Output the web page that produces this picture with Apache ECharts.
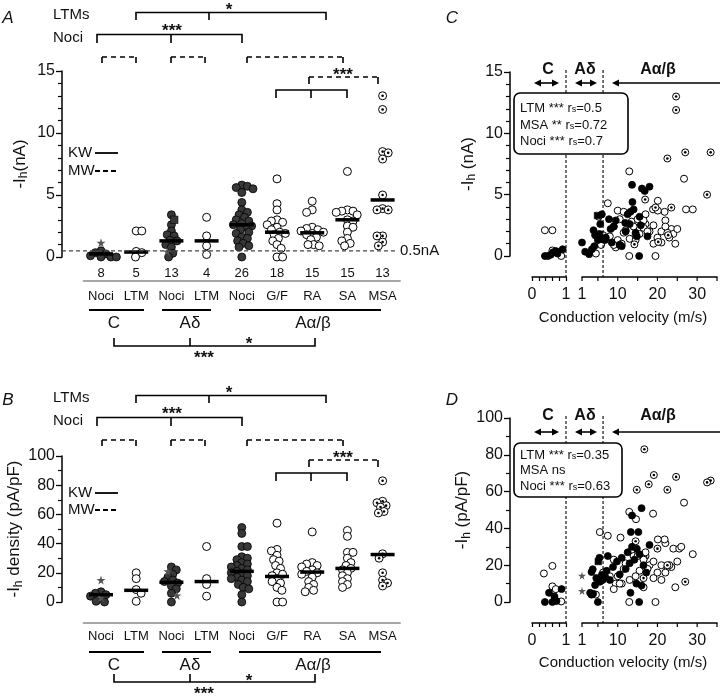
<!DOCTYPE html>
<html><head><meta charset="utf-8">
<script src="https://cdn.jsdelivr.net/npm/echarts@6/dist/echarts.min.js"></script>
<style>html,body{margin:0;padding:0;background:#fff}#c{width:720px;height:696px}</style>
</head><body><div id="c"></div>
<script>
// ---------- data ----------
const groupNames  = ['Noci','LTM','Noci','LTM','Noci','G/F','RA','SA','MSA'];
const groupKinds  = ['noci','ltm','noci','ltm','noci','ltm','ltm','ltm','msa'];
const groupCounts = ['8','5','13','4','26','18','15','15','13'];

// Panel A: -Ih (nA) per group
const aValues = [
  [1.15,0.5,0.35,0.25,0.1,0,0,0],
  [2.1,2.1,0.45,0.35,0],
  [3.4,3.0,2.6,2.1,1.8,1.7,1.35,1.3,1.0,0.8,0.45,0.3,0],
  [3.2,1.7,0.9,0.2],
  [5.8,5.7,5.6,5.5,5.2,4.4,3.8,3.6,3.4,3.2,3.0,2.9,2.7,2.6,2.5,2.4,2.2,2.0,1.9,1.6,1.5,1.3,1.1,0.9,0.8,0],
  [6.3,4.3,3.8,3.0,2.9,2.8,2.6,2.4,2.2,2.0,1.9,1.8,1.5,1.3,1.0,0.7,0,0],
  [4.5,3.8,3.6,2.4,2.3,2.2,2.1,2.0,1.9,1.8,1.6,1.4,1.0,1.0,0.9],
  [6.9,3.8,3.7,3.7,3.6,3.4,3.0,2.9,2.5,2.4,2.0,1.5,1.3,1.1,0.9],
  [13.0,11.9,8.5,8.4,7.9,5.0,3.9,3.8,3.8,1.7,1.7,1.2,0.9]
];
const aMedians = [0.25,0.4,1.3,1.3,2.6,2.0,1.95,3.0,4.6];
const aStars   = [[0,1.15],[2,0.45]];
const aSquares = [[2,3.0]];

// Panel B: -Ih density (pA/pF) per group
const bValues = [
  [15,7,6,5,4,3,0.5,0],
  [20,16,8.5,6,0.5],
  [24,22,21,19,17,15,14,13,11,9,6,4.5,0],
  [38,16,12,4],
  [51,47,38,38,31,30,29,27,26,25,24,23,22,21,20,19,18,17,16,15,14,12,10,9,5,0],
  [54,36,35,32,29,28,25,23,20,19,18,16,14,13,10,8,0,0],
  [48,27,26,25,24,22,21,20,19,17,14,12,10,8,7],
  [49,45,34,34,30,27,25,23,22,20,18,16,14,12,10],
  [83,69,68,66,65,62,61,33,30,20,15,13,11]
];
const bMedians = [5,8,13.5,14,21,17.5,20.5,23,32.5];
const bStars   = [[0,15],[0,3],[2,21],[2,4.5]];
const bSquares = [];

// Panel C: [conduction velocity (m/s), -Ih (nA)]
const cNociC = [[0.38,0],[0.47,0],[0.55,0.1],[0.62,0.3],[0.7,0.4],[0.75,0.2],[0.9,0.55]];
const cLtmC  = [[0.38,2.1],[0.6,2.1],[0.6,0.45],[0.72,0.35],[0.86,0]];
const cNoci  = [[6.0,3.4],[5.6,2.6],[3.9,2.1],[5.4,1.8],[4.3,1.7],[6.2,1.35],[5.0,1.3],[1.0,1.1],[4.1,0.8],[1.8,0.35],[2.8,0.15],[3.5,0.55],
  [13.6,5.8],[18.0,5.65],[16.1,5.5],[16.8,5.3],[13.7,4.4],[14.0,3.8],[13.2,3.6],[12.5,3.4],[15.5,3.2],[7.8,3.0],[9.5,2.9],[11.9,2.7],[13.0,2.6],
  [15.8,2.5],[9.0,2.4],[8.2,2.2],[12.0,2.0],[14.5,1.9],[17.5,1.6],[7.0,1.5],[6.8,1.3],[8.5,1.1],[10.5,0.9],[11.0,0.8],[15.4,0],[14.8,1.6]];
const cLtm   = [[5.2,3.2],[6.3,1.7],[5.8,0.9],[4.5,0.2],
  [26.7,6.3],[7.5,4.3],[27.2,3.8],[10.5,3.0],[22.0,2.9],[13.5,2.8],[17.0,2.6],[9.0,2.4],[23.5,2.2],[21.0,2.0],[11.5,1.9],[24.0,1.8],[20.0,1.5],[10.0,1.3],[19.0,1.0],[9.5,0.7],[12.9,0],[19.5,0],
  [20.1,4.5],[28.9,3.8],[21.8,3.6],[14.0,2.4],[16.5,2.3],[25.0,2.2],[12.0,2.1],[18.0,2.0],[22.5,1.9],[15.5,1.8],[8.0,1.6],[13.0,1.4],[11.0,1.0],[24.5,1.0],[9.0,0.9],
  [12.9,6.9],[18.9,3.8],[20.1,3.7],[10.0,3.7],[11.5,3.6],[17.0,3.4],[15.0,3.0],[16.5,2.9],[19.0,2.5],[22.0,2.4],[17.5,2.0],[23.0,1.5],[14.5,1.3],[21.0,1.1],[10.5,0.9]];
const cMsa   = [[24.7,13.0],[24.7,11.9],[27.0,8.45],[33.4,8.45],[22.5,7.95],[32.5,5.0],[16.9,4.6],[19.5,3.95],[23.5,3.95],[14.5,1.7],[22.7,1.7],[20.2,1.15],[14.2,0.95]];
const cStars   = [];
const cSquares = [[4.9,3.3]];

// Panel D: [conduction velocity (m/s), -Ih density (pA/pF)]
const dNociC = [[0.38,0],[0.6,0],[0.66,3],[0.87,7],[0.5,5],[0.72,0.5]];
const dLtmC  = [[0.35,15.5],[0.6,19.6],[0.6,8.5],[0.7,7],[0.86,0.3]];
const dNoci  = [[5.4,24],[3.7,17.8],[3.4,16.3],[6.0,14.7],[4.6,13],[5.5,11],[4.3,9.2],[3.05,5],[3.4,4],[3.8,4.5],[5.0,0],[6.2,12],
  [16.0,51],[13.6,47],[13.3,38],[15.2,38],[18.0,31],[13.6,30],[14.8,29],[12.5,27],[15.5,26],[7.5,25],[11.0,24],[14.2,23],[9.8,22],[13.0,21],
  [16.5,20],[8.8,19],[12.0,18],[7.2,17],[17.2,16],[10.5,15],[6.8,14],[8.0,12],[14.7,10],[16.0,9],[13.2,5],[15.4,0]];
const dLtm   = [[5.5,38],[6.3,16],[5.8,12],[4.5,4],
  [26.7,54],[7.5,36],[10.7,35],[22.0,32],[24.0,29],[13.5,28],[17.0,25],[9.0,23],[21.0,20],[23.5,19],[11.5,18],[20.0,16],[10.0,14],[19.0,13],[9.5,10],[16.5,8],[12.9,0],[19.5,0],
  [18.9,48],[28.9,26],[25.5,29],[14.0,25],[16.5,24],[25.0,22],[12.0,21],[18.0,20],[22.5,19],[15.5,17],[8.0,14],[13.0,12],[11.0,10],[24.5,8],[9.0,7],
  [12.9,49],[14.6,45],[21.8,34],[20.1,34],[26.0,30],[17.0,27],[15.0,25],[16.5,23],[19.0,22],[23.0,20],[17.5,18],[22.0,16],[14.5,14],[21.0,12],[10.5,10]];
const dMsa   = [[16.7,83],[19.1,69],[24.7,68],[33.4,66],[32.5,65],[17.8,64],[22.5,61],[14.8,61],[14.5,33],[20.0,29],[22.5,20],[16.5,13],[27.0,11]];
const dStars   = [[1.0,14.3],[1.0,6]];
const dSquares = [[5.1,22]];

const cvTicks  = [1,5,10,15,20,25,30,35];
const cvLabels = [1,10,20,30];
const cvBoundary = 6.3;   // A-delta / A-alpha/beta boundary (m/s)

// ---------- helpers ----------
const FONT = 'Liberation Sans, Arial, Helvetica, sans-serif';
const STAR = 'path://M50,0 L61,35 L98,35 L68,57 L79,91 L50,70 L21,91 L32,57 L2,35 L39,35 Z';
const NOCI_FILL = '#383838';

function swarm(vals, sx, sy, d){
  const placed = [], out = [];
  vals.forEach(v => {
    let best = 0;
    for (let k = 0; k < 80; k++) {
      const cands = k === 0 ? [0] : (placed.length % 2 ? [k,-k] : [-k,k]);
      let found = null;
      for (const c of cands) {
        const o = c * 0.7 / sx;
        let ok = true;
        for (const p of placed) {
          const dx = (o - p[0]) * sx, dy = (v - p[1]) * sy;
          if (dx*dx + dy*dy < d*d) { ok = false; break; }
        }
        if (ok) { found = o; break; }
      }
      if (found !== null) { best = found; break; }
    }
    placed.push([best, v]); out.push(best);
  });
  return out;
}

function dotPlotSeries(values, medians, stars, squares, xi, yi, sy){
  const buckets = {noci:[], ltm:[], msa:[], star:[], square:[]};
  const usedS = stars.map(()=>false), usedQ = squares.map(()=>false);
  values.forEach((vals, g) => {
    const off = swarm(vals, 35.2, sy, 5.6);
    vals.forEach((v, j) => {
      const pt = [g + off[j], v];
      let kind = groupKinds[g];
      const si = stars.findIndex((s,k)=>!usedS[k] && s[0]===g && s[1]===v);
      const qi = squares.findIndex((s,k)=>!usedQ[k] && s[0]===g && s[1]===v);
      if (si >= 0) { usedS[si] = true; kind = 'star'; }
      else if (qi >= 0) { usedQ[qi] = true; kind = 'square'; }
      buckets[kind].push(pt);
    });
  });
  return pointSeries(buckets.noci, buckets.ltm, buckets.msa, buckets.star, buckets.square, xi, yi, 8, NOCI_FILL)
    .concat([{
      type:'scatter', xAxisIndex:xi, yAxisIndex:yi, symbol:'rect', symbolSize:[24,3.5],
      itemStyle:{color:'#000', opacity:1}, z:10, data: medians.map((m,g)=>[g,m])
    }]);
}

function pointSeries(noci, ltm, msa, star, square, xi, yi, size, fill){
  const base = {type:'scatter', xAxisIndex:xi, yAxisIndex:yi, symbolSize:size, clip:false};
  return [
    Object.assign({}, base, {data:ltm, itemStyle:{color:'#fff', borderColor:'#000', borderWidth:1, opacity:1}, z:2}),
    Object.assign({}, base, {data:msa, itemStyle:{color:'#fff', borderColor:'#000', borderWidth:1, opacity:1}, z:2}),
    Object.assign({}, base, {data:msa, symbolSize:2.6, itemStyle:{color:'#000', opacity:1}, z:3}),
    Object.assign({}, base, {data:noci, itemStyle:{color:fill, borderColor:'#000', borderWidth:0.8, opacity:1}, z:4}),
    Object.assign({}, base, {data:square, symbol:'rect', symbolSize:size-0.5, itemStyle:{color:fill, borderColor:'#000', borderWidth:0.6, opacity:1}, z:4}),
    Object.assign({}, base, {data:star, symbol:STAR, symbolSize:size+1, itemStyle:{color:'#555', opacity:1}, z:5})
  ];
}

const subRich = {s:{fontSize:12, fontFamily:FONT, verticalAlign:'bottom', lineHeight:12, color:'#111'}};

function yAxisDef(grid, max, interval, minorSplit, offset, name, show){
  return {
    gridIndex:grid, type:'value', min:0, max:max, interval:interval, offset:offset, show:show,
    name:name, nameLocation:'middle', nameGap:32,
    nameTextStyle:{fontSize:17, fontFamily:FONT, color:'#111', lineHeight:20, rich:subRich},
    axisLine:{show:true, onZero:false, lineStyle:{color:'#000', width:1.5}},
    axisTick:{show:true, length:6, lineStyle:{width:1.3}},
    minorTick:{show:true, splitNumber:minorSplit, length:4, lineStyle:{color:'#000', width:1.2}},
    splitLine:{show:false}, minorSplitLine:{show:false},
    axisLabel:{fontSize:16, fontFamily:FONT, color:'#111', margin:7}
  };
}
function catAxis(grid, data, offset, margin, line){
  return {
    gridIndex:grid, type:'category', data:data, position:'bottom', offset:offset, boundaryGap:true,
    axisLine:{show:line, onZero:false, lineStyle:{color:'#8a8a8a', width:1.5}},
    axisTick:{show:false}, splitLine:{show:false},
    axisLabel:{fontSize:13, fontFamily:FONT, color:'#111', margin:margin, interval:0}
  };
}
const axisLabelStyle = {fontSize:16, fontFamily:FONT, color:'#111', margin:10};
function cvAxisLow(grid){
  return {gridIndex:grid, type:'value', min:0, max:1, interval:0.2, offset:21,
    axisLine:{onZero:false, lineStyle:{color:'#000', width:1.5}},
    axisTick:{length:4, lineStyle:{width:1.2}}, splitLine:{show:false},
    axisLabel:Object.assign({}, axisLabelStyle, {formatter:v => (Math.abs(v)<1e-6 ? '0' : Math.abs(v-1)<1e-6 ? '1' : '')})};
}
function cvAxisHigh(grid){
  // ticks and labels are placed through this axis' own scale below (convertToPixel)
  return {gridIndex:grid, type:'value', min:1, max:35, offset:21,
    axisLine:{onZero:false, lineStyle:{color:'#000', width:1.5}},
    axisTick:{show:false}, axisLabel:{show:false}, splitLine:{show:false}};
}

const option = {
  animation:false,
  textStyle:{fontFamily:FONT},
  grid:[
    {left:83.4, top:71, width:316.8, height:186},
    {left:83.4, top:456, width:316.8, height:146},
    {left:532, top:72, width:34, height:184},
    {left:582, top:72, width:135, height:184},
    {left:532, top:418, width:34, height:184},
    {left:582, top:418, width:135, height:184}
  ],
  xAxis:[
    {gridIndex:0, type:'value', min:-0.5, max:8.5, show:false},
    catAxis(0, groupNames, 24, 9, true),
    catAxis(0, groupCounts, 0, 10, false),
    {gridIndex:1, type:'value', min:-0.5, max:8.5, show:false},
    catAxis(1, groupNames, 21, 7, true),
    cvAxisLow(2), cvAxisHigh(3), cvAxisLow(4), cvAxisHigh(5)
  ],
  yAxis:[
    yAxisDef(0, 15, 5, 5, 21.4, '-I{s|h}(nA)', true),
    yAxisDef(1, 100, 20, 2, 21.4, '-I{s|h} density (pA/pF)', true),
    yAxisDef(2, 15, 5, 5, 22, '-I{s|h} (nA)', true),
    {gridIndex:3, type:'value', min:0, max:15, show:false},
    yAxisDef(4, 100, 20, 2, 22, '-I{s|h} (pA/pF)', true),
    {gridIndex:5, type:'value', min:0, max:100, show:false}
  ],
  series:[].concat(
    dotPlotSeries(aValues, aMedians, aStars, aSquares, 0, 0, 186/15),
    dotPlotSeries(bValues, bMedians, bStars, bSquares, 3, 1, 146/100),
    pointSeries(cNociC, cLtmC, [], [], [], 5, 2, 7, '#000'),
    pointSeries(cNoci, cLtm, cMsa, cStars, cSquares, 6, 3, 7, '#000'),
    pointSeries(dNociC, dLtmC, [], [], [], 7, 4, 7, '#000'),
    pointSeries(dNoci, dLtm, dMsa, dStars, dSquares, 8, 5, 7, '#000')
  )
};

const chart = echarts.init(document.getElementById('c'), null, {renderer:'canvas'});
chart.setOption(option);

// ---------- decorations ----------
const G = [];
function line(pts, w, dash, color){
  G.push({type:'polyline', silent:true, z:20, shape:{points:pts},
    style:{stroke:color||'#000', lineWidth:w||1.6, fill:null, lineDash:dash||null}});
}
function txt(x, y, s, size, opts){
  opts = opts || {};
  G.push({type:'text', silent:true, z:20, x:x, y:y, style:{
    text:s, font:(opts.style||'')+' '+(opts.weight||'normal')+' '+size+'px '+FONT,
    fill:'#111', align:opts.align||'center', verticalAlign:'middle',
    textAlign:opts.align||'center', textVerticalAlign:'middle', rich:opts.rich}});
}
function head(x, y, dir){
  G.push({type:'polygon', silent:true, z:20, shape:{points:[[x,y],[x-dir*7,y-3.5],[x-dir*7,y+3.5]]}, style:{fill:'#000'}});
}

function topBrackets(dy){
  txt(53, 15+dy, 'LTMs', 15, {align:'left'});
  txt(53, 38+dy, 'Noci', 15, {align:'left'});
  line([[136,20+dy],[136,12.5+dy],[326,12.5+dy],[326,20+dy]]); line([[209,12.5+dy],[209,20+dy]]);
  line([[97,43+dy],[97,34.5+dy],[242,34.5+dy],[242,43+dy]]); line([[171,34.5+dy],[171,43+dy]]);
  line([[276,98+dy],[276,90+dy],[347,90+dy],[347,98+dy]]); line([[311,90+dy],[311,98+dy]]);
  [[102,136],[171,205],[247,343]].forEach(r => {
    line([[r[0],57+dy],[r[1],57+dy]], 1.6, [5,4]);
    line([[r[0],57+dy],[r[0],63+dy]]); line([[r[1],57+dy],[r[1],63+dy]]);
  });
  line([[309,77+dy],[378,77+dy]], 1.6, [5,4]);
  line([[309,77+dy],[309,84+dy]]); line([[378,77+dy],[378,84+dy]]);
  txt(229, 10+dy, '*', 17, {weight:'bold'});
  txt(172, 31+dy, '***', 17, {weight:'bold'});
  txt(343, 75+dy, '***', 17, {weight:'bold'});
}
function legendKW(yk, ym){
  txt(68, yk, 'KW', 15, {align:'left'}); line([[95,yk],[118,yk]], 1.8);
  txt(68, ym, 'MW', 15, {align:'left'}); line([[95,ym],[118,ym]], 1.8, [5,3]);
}
function fibreClasses(yu, yl, yb, ys1, ys3){
  line([[89,yu],[144,yu]], 2); line([[162,yu],[211,yu]], 2); line([[239,yu],[381,yu]], 2);
  txt(114, yl, 'C', 17); txt(190, yl, 'Aδ', 17); txt(313, yl, 'Aα/β', 17);
  line([[114,yb-8],[114,yb],[315,yb],[315,yb-8]]); line([[190,yb-8],[190,yb]]);
  txt(249, ys1, '*', 17, {weight:'bold'});
  txt(204, ys3, '***', 17, {weight:'bold'});
}
function cvHeader(yt, ya){
  txt(548, yt, 'C', 16, {weight:'bold'}); txt(585, yt, 'Aδ', 16, {weight:'bold'}); txt(658, yt, 'Aα/β', 16, {weight:'bold'});
  line([[536,ya],[557,ya]], 1.6); head(534,ya,-1); head(559,ya,1);
  line([[577,ya],[595,ya]], 1.6); head(575,ya,-1); head(597,ya,1);
  line([[614,ya],[720,ya]], 1.6); head(612,ya,-1);
}
const rich13 = {s:{fontSize:9, fontFamily:FONT, verticalAlign:'bottom', lineHeight:9, fill:'#111'}};
function statBox(x0, y0, x1, y1, lines){
  G.push({type:'rect', silent:true, z:20, shape:{x:x0, y:y0, width:x1-x0, height:y1-y0, r:6},
    style:{fill:'#fff', stroke:'#000', lineWidth:1.6}});
  lines.forEach(l => txt(x0+6, l[0], l[1], 13, {align:'left', rich:rich13}));
}
function cvTicksDraw(axisIndex, axisY){
  cvTicks.forEach(v => {
    const x = chart.convertToPixel({xAxisIndex:axisIndex}, v);
    line([[x,axisY],[x,axisY+4]], 1.2);
  });
  cvLabels.forEach(v => {
    const x = chart.convertToPixel({xAxisIndex:axisIndex}, v);
    txt(x, axisY+18, String(v), 16);
  });
}

topBrackets(0); topBrackets(383);
legendKW(153, 171); legendKW(493, 510);
fibreClasses(310, 323, 346, 344, 358);
fibreClasses(652, 665, 682, 681, 694);
txt(8, 18, 'A', 17, {style:'italic'}); txt(452, 18, 'C', 17, {style:'italic'});
txt(8, 400, 'B', 17, {style:'italic'}); txt(452, 400, 'D', 17, {style:'italic'});

// 0.5 nA threshold line
const y05 = chart.convertToPixel({yAxisIndex:0}, 0.5);
line([[62,y05],[397,y05]], 1.2, [4,3], '#444');
txt(400, y05, '0.5nA', 15, {align:'left'});

// Conduction velocity panels
cvHeader(70, 83); cvHeader(416, 432);
cvTicksDraw(6, 277); cvTicksDraw(8, 623);
[[5,6,72,277],[7,8,418,623]].forEach(p => {
  const x1 = chart.convertToPixel({xAxisIndex:p[0]}, 1);
  const x2 = chart.convertToPixel({xAxisIndex:p[1]}, cvBoundary);
  line([[x1,p[2]-2],[x1,p[3]]], 1.1, [3,2]);
  line([[x2,p[2]-2],[x2,p[3]]], 1.1, [3,2]);
});
statBox(514, 93, 628, 154, [[108,'LTM *** r{s|s}=0.5'],[125,'MSA ** r{s|s}=0.72'],[141,'Noci *** r{s|s}=0.7']]);
statBox(514, 443, 622, 497, [[455,'LTM *** r{s|s}=0.35'],[470,'MSA ns'],[486,'Noci *** r{s|s}=0.63']]);
txt(623, 318, 'Conduction velocity (m/s)', 15);
txt(623, 663, 'Conduction velocity (m/s)', 15);

chart.setOption({graphic:G});
</script></body></html>
